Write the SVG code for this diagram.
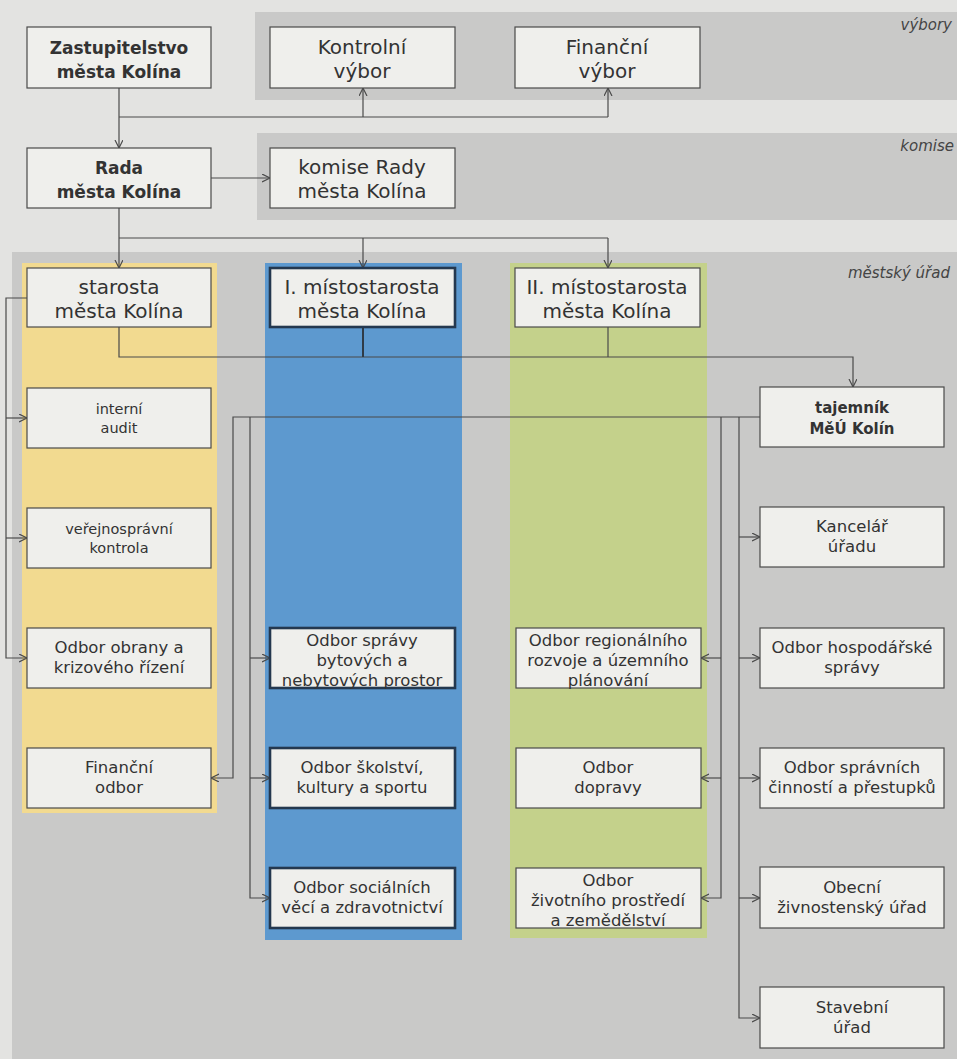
<svg xmlns="http://www.w3.org/2000/svg" width="957" height="1059" viewBox="0 0 957 1059">
<defs>
<style>
.bg{fill:#e3e3e1}
.band{fill:#c9c9c8}
.box{fill:#efefec;stroke:#4a4a4a;stroke-width:1.2}
.boxb{fill:#efefec;stroke:#24384f;stroke-width:2.6}
.c{fill:none;stroke:#4a4a4a;stroke-width:1.2}
.ct{fill:none;stroke:#2f3b47;stroke-width:2}
text{font-family:"DejaVu Sans","Liberation Sans",sans-serif;fill:#333;text-anchor:middle}
.t1{font-size:20px}
.tb{font-size:17px;font-weight:bold}
.tbs{font-size:15px;font-weight:bold}
.t2{font-size:16.5px}
.t3{font-size:14.5px}
.lab{font-size:15px;font-style:italic;text-anchor:end;fill:#444}
</style>
<marker id="a" markerWidth="10" markerHeight="10" refX="8" refY="4" orient="auto" markerUnits="userSpaceOnUse">
<path d="M0,0 L8,4 L0,8" fill="none" stroke="#4a4a4a" stroke-width="1.2"/>
</marker>
</defs>
<g id="background">
<rect class="bg" x="0" y="0" width="957" height="1059"/>
<rect class="band" x="255" y="12" width="702" height="88"/>
<rect class="band" x="257" y="133" width="700" height="87"/>
<rect class="band" x="12" y="252" width="945" height="807"/>
<rect x="22" y="263" width="195" height="550" fill="#f2da90"/>
<rect x="265" y="263" width="197" height="677" fill="#5d99cf"/>
<rect x="510" y="263" width="197" height="675" fill="#c4d18b"/>
<text class="lab" x="952" y="30">výbory</text>
<text class="lab" x="954" y="151">komise</text>
<text class="lab" x="950" y="278">městský úřad</text>
</g>
<g id="connectors">
<path class="c" d="M119,88 V148" marker-end="url(#a)"/>
<path class="c" d="M119,117 H608"/>
<path class="c" d="M363,117 V88" marker-end="url(#a)"/>
<path class="c" d="M608,117 V88" marker-end="url(#a)"/>
<path class="c" d="M211,178 H270" marker-end="url(#a)"/>
<path class="c" d="M119,208 V268" marker-end="url(#a)"/>
<path class="c" d="M119,238 H608"/>
<path class="c" d="M363,238 V268" marker-end="url(#a)"/>
<path class="c" d="M608,238 V268" marker-end="url(#a)"/>
<path class="c" d="M119,327 V357 H853 V387" marker-end="url(#a)"/>
<path class="ct" d="M363,327 V357"/>
<path class="c" d="M608,327 V357"/>
<path class="c" d="M27,298 H6 V658 H27" marker-end="url(#a)"/>
<path class="c" d="M6,418 H27" marker-end="url(#a)"/>
<path class="c" d="M6,538 H27" marker-end="url(#a)"/>
<path class="c" d="M760,417 H233 V778 H211" marker-end="url(#a)"/>
<path class="c" d="M250,417 V898 H270" marker-end="url(#a)"/>
<path class="c" d="M250,658 H270" marker-end="url(#a)"/>
<path class="c" d="M250,778 H270" marker-end="url(#a)"/>
<path class="c" d="M721,417 V898 H701" marker-end="url(#a)"/>
<path class="c" d="M721,658 H701" marker-end="url(#a)"/>
<path class="c" d="M721,778 H701" marker-end="url(#a)"/>
<path class="c" d="M739,417 V1018 H760" marker-end="url(#a)"/>
<path class="c" d="M739,537 H760" marker-end="url(#a)"/>
<path class="c" d="M739,658 H760" marker-end="url(#a)"/>
<path class="c" d="M739,778 H760" marker-end="url(#a)"/>
<path class="c" d="M739,898 H760" marker-end="url(#a)"/>
</g>
<g id="zastupitelstvo"><rect class="box" x="27" y="27" width="184" height="61"/><text class="tb" x="119" y="54">Zastupitelstvo</text><text class="tb" x="119" y="78">města Kolína</text></g>
<g id="kontrolni-vybor"><rect class="box" x="270" y="27" width="185" height="61"/><text class="t1" x="362" y="54">Kontrolní</text><text class="t1" x="362" y="78">výbor</text></g>
<g id="financni-vybor"><rect class="box" x="515" y="27" width="185" height="61"/><text class="t1" x="607" y="54">Finanční</text><text class="t1" x="607" y="78">výbor</text></g>
<g id="rada"><rect class="box" x="27" y="148" width="184" height="60"/><text class="tb" x="119" y="174">Rada</text><text class="tb" x="119" y="198">města Kolína</text></g>
<g id="komise-rady"><rect class="box" x="270" y="148" width="185" height="60"/><text class="t1" x="362" y="174">komise Rady</text><text class="t1" x="362" y="198">města Kolína</text></g>
<g id="starosta"><rect class="box" x="27" y="268" width="184" height="59"/><text class="t1" x="119" y="294">starosta</text><text class="t1" x="119" y="318">města Kolína</text></g>
<g id="mistostarosta-1"><rect class="boxb" x="270" y="268" width="185" height="59"/><text class="t1" x="362" y="294">I. místostarosta</text><text class="t1" x="362" y="318">města Kolína</text></g>
<g id="mistostarosta-2"><rect class="box" x="515" y="268" width="185" height="59"/><text class="t1" x="607" y="294">II. místostarosta</text><text class="t1" x="607" y="318">města Kolína</text></g>
<g id="interni-audit"><rect class="box" x="27" y="388" width="184" height="60"/><text class="t3" x="119" y="414">interní</text><text class="t3" x="119" y="433">audit</text></g>
<g id="verejnospravni-kontrola"><rect class="box" x="27" y="508" width="184" height="60"/><text class="t3" x="119" y="534">veřejnosprávní</text><text class="t3" x="119" y="553">kontrola</text></g>
<g id="odbor-obrany"><rect class="box" x="27" y="628" width="184" height="60"/><text class="t2" x="119" y="653">Odbor obrany a</text><text class="t2" x="119" y="673">krizového řízení</text></g>
<g id="financni-odbor"><rect class="box" x="27" y="748" width="184" height="60"/><text class="t2" x="119" y="773">Finanční</text><text class="t2" x="119" y="793">odbor</text></g>
<g id="odbor-spravy-bytovych"><rect class="boxb" x="270" y="628" width="185" height="60"/><text class="t2" x="362" y="646">Odbor správy</text><text class="t2" x="362" y="666">bytových a</text><text class="t2" x="362" y="686">nebytových prostor</text></g>
<g id="odbor-skolstvi"><rect class="boxb" x="270" y="748" width="185" height="60"/><text class="t2" x="362" y="773">Odbor školství,</text><text class="t2" x="362" y="793">kultury a sportu</text></g>
<g id="odbor-socialnich"><rect class="boxb" x="270" y="868" width="185" height="60"/><text class="t2" x="362" y="893">Odbor sociálních</text><text class="t2" x="362" y="913">věcí a zdravotnictví</text></g>
<g id="odbor-regionalniho"><rect class="box" x="516" y="628" width="185" height="60"/><text class="t2" x="608" y="646">Odbor regionálního</text><text class="t2" x="608" y="666">rozvoje a územního</text><text class="t2" x="608" y="686">plánování</text></g>
<g id="odbor-dopravy"><rect class="box" x="516" y="748" width="185" height="60"/><text class="t2" x="608" y="773">Odbor</text><text class="t2" x="608" y="793">dopravy</text></g>
<g id="odbor-zivotniho"><rect class="box" x="516" y="868" width="185" height="60"/><text class="t2" x="608" y="886">Odbor</text><text class="t2" x="608" y="906">životního prostředí</text><text class="t2" x="608" y="926">a zemědělství</text></g>
<g id="tajemnik"><rect class="box" x="760" y="387" width="184" height="60"/><text class="tbs" x="852" y="413">tajemník</text><text class="tbs" x="852" y="434">MěÚ Kolín</text></g>
<g id="kancelar"><rect class="box" x="760" y="507" width="184" height="60"/><text class="t2" x="852" y="532">Kancelář</text><text class="t2" x="852" y="552">úřadu</text></g>
<g id="odbor-hospodarske"><rect class="box" x="760" y="628" width="184" height="60"/><text class="t2" x="852" y="653">Odbor hospodářské</text><text class="t2" x="852" y="673">správy</text></g>
<g id="odbor-spravnich"><rect class="box" x="760" y="748" width="184" height="60"/><text class="t2" x="852" y="773">Odbor správních</text><text class="t2" x="852" y="793">činností a přestupků</text></g>
<g id="zivnostensky-urad"><rect class="box" x="760" y="867" width="184" height="61"/><text class="t2" x="852" y="893">Obecní</text><text class="t2" x="852" y="913">živnostenský úřad</text></g>
<g id="stavebni-urad"><rect class="box" x="760" y="987" width="184" height="61"/><text class="t2" x="852" y="1013">Stavební</text><text class="t2" x="852" y="1033">úřad</text></g>
</svg>
